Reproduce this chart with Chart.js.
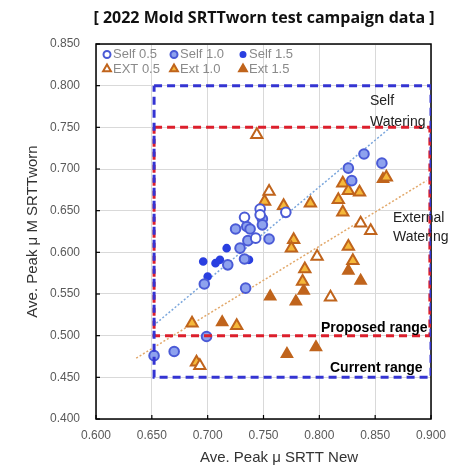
<!DOCTYPE html>
<html>
<head>
<meta charset="utf-8">
<script src="https://cdn.jsdelivr.net/npm/chart.js@4"></script>
<style>
  body { margin: 0; background: #fff; }
</style>
</head>
<body>
<canvas id="myChart" width="472" height="467"></canvas>
<script>
// values
const self05X = [0.733, 0.747, 0.747, 0.743, 0.770];
const self05Y = [0.642, 0.652, 0.645, 0.617, 0.648];

const self10X = [0.725, 0.735, 0.738, 0.749, 0.749, 0.736, 0.729, 0.755, 0.718, 0.733, 0.697, 0.734, 0.652, 0.670, 0.699, 0.840, 0.826, 0.856, 0.829];
const self10Y = [0.628, 0.631, 0.628, 0.640, 0.633, 0.614, 0.605, 0.616, 0.585, 0.592, 0.562, 0.557, 0.476, 0.481, 0.499, 0.718, 0.701, 0.707, 0.686];

const self15X = [0.717, 0.696, 0.707, 0.711, 0.700, 0.737];
const self15Y = [0.605, 0.589, 0.587, 0.591, 0.571, 0.591];

const ext05X = [0.744, 0.755, 0.693, 0.798, 0.810, 0.837, 0.846];
const ext05Y = [0.741, 0.673, 0.464, 0.595, 0.546, 0.635, 0.626];

const ext10X = [0.686, 0.726, 0.690, 0.751, 0.768, 0.777, 0.775, 0.787, 0.785, 0.826, 0.830, 0.860, 0.821, 0.826, 0.836, 0.817, 0.792, 0.821];
const ext10Y = [0.515, 0.512, 0.468, 0.661, 0.656, 0.615, 0.605, 0.580, 0.565, 0.607, 0.590, 0.690, 0.683, 0.674, 0.672, 0.663, 0.659, 0.648];

const ext15X = [0.713, 0.756, 0.779, 0.771, 0.797, 0.786, 0.826, 0.837, 0.857];
const ext15Y = [0.516, 0.547, 0.541, 0.478, 0.486, 0.554, 0.578, 0.566, 0.688];

// trend lines (end points)
const selfTrendX = [0.654, 0.862];
const selfTrendY = [0.515, 0.748];
const extTrendX = [0.636, 0.896];
const extTrendY = [0.473, 0.686];

// range boxes (corners)
const currentX = [0.652, 0.900, 0.900, 0.652, 0.652];
const currentY = [0.800, 0.800, 0.450, 0.450, 0.800];
const proposedX = [0.652, 0.899, 0.899, 0.652, 0.652];
const proposedY = [0.750, 0.750, 0.500, 0.500, 0.750];

const xMin = 0.6, xMax = 0.9, yMin = 0.4, yMax = 0.85, step = 0.05;

const pts = (xs, ys) => xs.map((x, i) => ({ x, y: ys[i] }));

const blueEdge = "#4a5ad6";
const orangeEdge = "#c0641c";

const marks = (label, xs, ys, style, fill, edge, r, legendR) => ({
  label,
  data: pts(xs, ys),
  pointStyle: style,
  backgroundColor: fill,
  borderColor: edge,
  borderWidth: 2,
  pointRadius: r,
  legendR,
  inLegend: true,
  order: 1,
});

const line = (xs, ys, color, width, dash, ord) => ({
  data: pts(xs, ys),
  showLine: true,
  borderColor: color,
  borderWidth: width,
  borderDash: dash,
  pointRadius: 0,
  fill: false,
  order: ord,
});

const decor = {
  id: "decor",
  beforeDatasetsDraw(chart) {
    const { ctx, chartArea: a, scales } = chart;
    ctx.save();
    ctx.strokeStyle = "#000";
    ctx.lineWidth = 1.5;
    ctx.strokeRect(a.left, a.top, a.right - a.left, a.bottom - a.top);
    ctx.lineWidth = 1.2;
    scales.x.ticks.forEach((t) => {
      const px = scales.x.getPixelForValue(t.value);
      ctx.beginPath();
      ctx.moveTo(px, a.bottom);
      ctx.lineTo(px, a.bottom - 4);
      ctx.stroke();
    });
    scales.y.ticks.forEach((t) => {
      const py = scales.y.getPixelForValue(t.value);
      ctx.beginPath();
      ctx.moveTo(a.left, py);
      ctx.lineTo(a.left + 4, py);
      ctx.stroke();
    });
    ctx.restore();
  },
  afterDraw(chart) {
    const { ctx, chartArea: a } = chart;
    ctx.save();
    ctx.textBaseline = "middle";

    // legend inside plot, 3 columns x 2 rows
    const items = chart.data.datasets.filter((d) => d.inLegend);
    const colX = [11, 78, 147];
    const rowY = [10.5, 25];
    ctx.font = "13px 'Liberation Sans', Arial, sans-serif";
    items.forEach((d, i) => {
      const mx = a.left + colX[i % 3];
      const my = a.top + rowY[Math.floor(i / 3)];
      ctx.fillStyle = d.backgroundColor;
      ctx.strokeStyle = d.borderColor;
      ctx.lineWidth = 2;
      Chart.helpers.drawPoint(ctx, { pointStyle: d.pointStyle, radius: d.legendR, borderWidth: 2, rotation: 0 }, mx, my);
      ctx.fillStyle = "#8a8a8a";
      ctx.textAlign = "left";
      ctx.fillText(d.label, mx + 6, my);
    });

    // title
    ctx.fillStyle = "#111";
    ctx.textAlign = "center";
    ctx.font = "bold 16px 'Open Sans', sans-serif";
    ctx.fillText("[ 2022 Mold SRTTworn test campaign data ]", 264, 18);

    // x axis title
    ctx.fillStyle = "#333";
    ctx.font = "15px 'Liberation Sans', Arial, sans-serif";
    ctx.fillText("Ave. Peak μ SRTT New", 279, 458);

    // annotations
    ctx.textAlign = "left";
    ctx.fillStyle = "#222";
    ctx.font = "14px 'Liberation Sans', Arial, sans-serif";
    ctx.fillText("Self", 370, 101);
    ctx.fillText("Watering", 370, 122);
    ctx.fillText("External", 393, 218);
    ctx.fillText("Watering", 393, 237);

    ctx.fillStyle = "#000";
    ctx.font = "bold 14px 'Liberation Sans', Arial, sans-serif";
    ctx.fillText("Proposed range", 321, 328);
    ctx.fillText("Current range", 330, 368);
    ctx.restore();
  },
};

const config = {
  type: "scatter",
  data: {
    datasets: [
      marks("Self 0.5", self05X, self05Y, "circle", "#ffffff", blueEdge, 4.8, 3.5),
      marks("Self 1.0", self10X, self10Y, "circle", "#8ea2ee", blueEdge, 4.8, 3.5),
      marks("Self 1.5", self15X, self15Y, "circle", "#2a3fe0", "#2a3fe0", 3.3, 2.5),
      marks("EXT 0.5", ext05X, ext05Y, "triangle", "#ffffff", orangeEdge, 6.5, 4.5),
      marks("Ext 1.0", ext10X, ext10Y, "triangle", "#f5b83a", orangeEdge, 6.5, 4.5),
      marks("Ext 1.5", ext15X, ext15Y, "triangle", orangeEdge, orangeEdge, 6, 4.5),
      line(selfTrendX, selfTrendY, "#7aa6dc", 1.5, [2, 2], 3),
      line(extTrendX, extTrendY, "#e2a86a", 1.5, [2, 2], 3),
      line(currentX, currentY, "#3434d2", 3, [8, 5], 0),
      line(proposedX, proposedY, "#dc1f2c", 3, [8, 5], 0),
    ],
  },
  options: {
    responsive: false,
    animation: false,
    layout: { padding: { top: 44, right: 41, left: 0, bottom: 0 } },
    plugins: {
      legend: { display: false },
      tooltip: { enabled: false },
    },
    scales: {
      x: {
        min: xMin,
        max: xMax,
        afterFit: (s) => { s.height = 48; },
        ticks: {
          stepSize: step,
          padding: 9,
          color: "#595959",
          font: { family: "'Liberation Sans', Arial, sans-serif", size: 12 },
          callback: (v) => v.toFixed(3),
        },
        grid: { color: "#d9d9d9", drawTicks: false },
        border: { display: false },
      },
      y: {
        min: yMin,
        max: yMax,
        afterFit: (s) => { s.width = 96; },
        ticks: {
          stepSize: step,
          padding: 16,
          color: "#595959",
          font: { family: "'Liberation Sans', Arial, sans-serif", size: 12 },
          callback: (v) => v.toFixed(3),
        },
        grid: { color: "#d9d9d9", drawTicks: false },
        border: { display: false },
        title: {
          display: true,
          text: "Ave. Peak μ M SRTTworn",
          color: "#333",
          font: { family: "'Liberation Sans', Arial, sans-serif", size: 15 },
          padding: { top: 24, bottom: 0 },
        },
      },
    },
  },
  plugins: [decor],
};

const myChart = new Chart(document.getElementById("myChart"), config);
</script>
</body>
</html>
